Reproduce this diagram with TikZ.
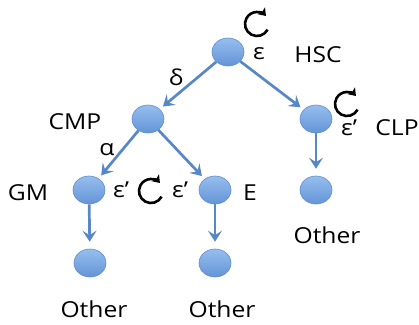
\documentclass[tikz,border=0pt]{standalone}
\usepackage{xcolor}
\usepackage{fontspec}
\setmainfont{Open Sans}[FakeStretch=1.12]
\usepackage{tikz}
\usetikzlibrary{arrows.meta,shapes.geometric}

\definecolor{celltop}{RGB}{150,190,238}
\definecolor{cellbot}{RGB}{100,148,215}
\definecolor{celledge}{RGB}{95,140,205}
\definecolor{linkblue}{RGB}{88,135,200}

\tikzset{
    cell/.style={ellipse, minimum width=32pt, minimum height=28pt, inner sep=0pt,
        draw=celledge, line width=0.6pt, top color=celltop, bottom color=cellbot},
    link/.style={draw=linkblue, line width=2.7pt, -{Stealth[length=11pt,width=14pt,inset=4.5pt]}},
    selfloop/.style={draw=black, line width=2.6pt, -{Stealth[length=7pt,width=10pt,inset=1.5pt]}},
    lab/.style={font=\fontsize{22}{26}\selectfont, inner sep=0pt}
}

\begin{document}
\begin{tikzpicture}[x=1pt,y=-1pt]
                    \useasboundingbox (0,0) rectangle (419,324);

                    % cells
                    \foreach \n/\x/\y in {hsc/228/52, cmp/148/119, clp/316/119,
                                          gm/89/190, e/215/190, o3/316/190,
                                          o1/90/263, o2/215/263} {
                        \node[cell] (\n) at (\x,\y) {};
                    }

                    % names and rates
                    \node[lab] (lhsc) at (318,55) {HSC};
                    \node[lab] (lcmp) at (75,122) {CMP};
                    \node[lab] (lclp) at (397,128) {CLP};
                    \node[lab] (lgm) at (28,193) {GM};
                    \node[lab] (le) at (250,193) {E};
                    \foreach \n/\x/\y in {lo3/327/235, lo1/94/309, lo2/222/309} {
                        \node[lab] (\n) at (\x,\y) {Other};
                    }
                    \node[lab] (eps) at (259,54) {ε};
                    \node[lab] (del) at (176,77) {δ};
                    \node[lab] (alp) at (107,150) {α};
                    \node[lab] (epsclp) at (349,128) {ε’};
                    \node[lab] (epsgm) at (121,190) {ε’};
                    \node[lab] (epse) at (180,190) {ε’};

                    % self renewal
                    \foreach \x/\y in {257/24, 347/104, 151/191} {
                        \draw[selfloop] (\x,\y) ++(28:12) arc[start angle=28, end angle=318, radius=12];
                    }

                    \draw[link, shorten >=4pt] (hsc) -- (cmp);
                    \draw[link, shorten >=4pt] (hsc) -- (clp);
                    \draw[link, shorten >=4pt] (cmp) -- (gm);
                    \draw[link, shorten >=4pt] (cmp) -- (e);
                    \draw[link, shorten >=7pt] (clp) -- (o3);
                    \draw[link, shorten >=7pt] (gm) -- (o1);
                    \draw[link, shorten >=7pt] (e) -- (o2);
                \end{tikzpicture}
\end{document}
